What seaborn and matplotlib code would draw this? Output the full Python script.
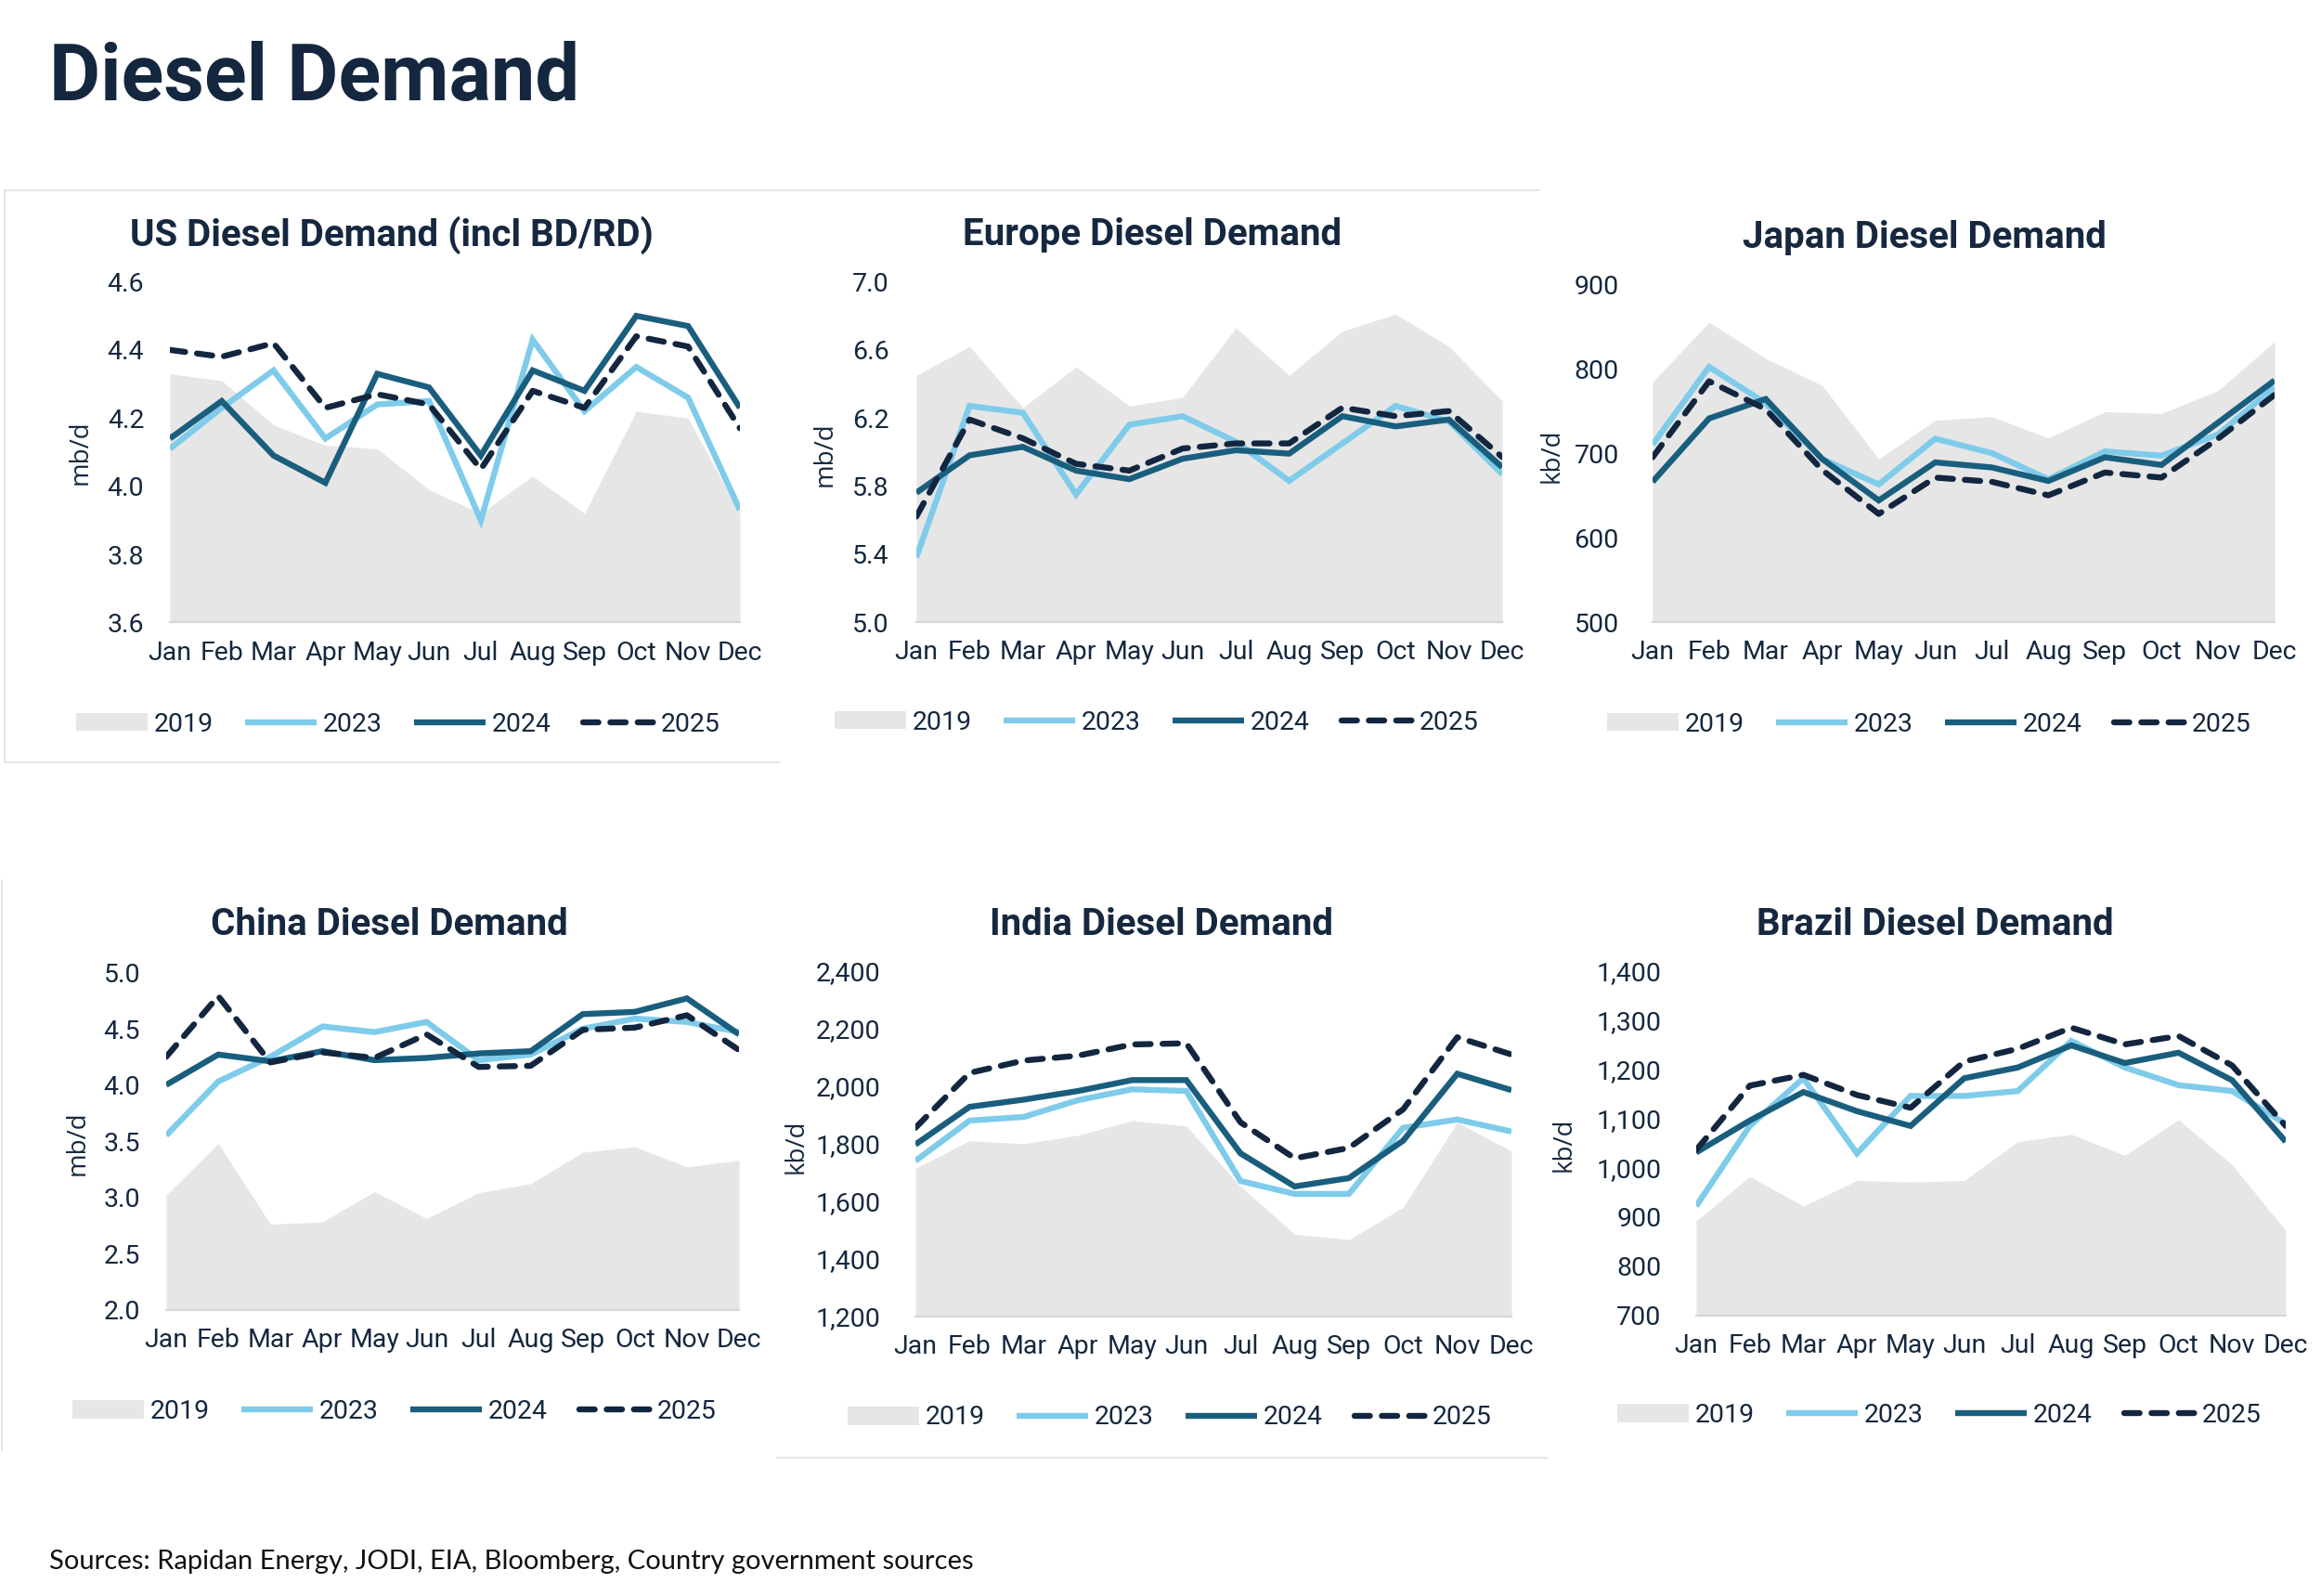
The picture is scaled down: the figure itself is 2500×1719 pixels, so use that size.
import matplotlib
matplotlib.use("Agg")
import matplotlib.pyplot as plt
import seaborn as sns
import numpy as np
import pandas as pd
from matplotlib.ticker import FixedLocator, FuncFormatter
from matplotlib.lines import Line2D

# ---------------- data ----------------
months = ["Jan", "Feb", "Mar", "Apr", "May", "Jun", "Jul", "Aug", "Sep", "Oct", "Nov", "Dec"]
years = ["2019", "2023", "2024", "2025"]

us_2019 = [4.33, 4.31, 4.18, 4.12, 4.11, 3.99, 3.92, 4.03, 3.92, 4.22, 4.20, 3.92]
us_2023 = [4.11, 4.23, 4.34, 4.14, 4.24, 4.25, 3.90, 4.43, 4.22, 4.35, 4.26, 3.93]
us_2024 = [4.14, 4.25, 4.09, 4.01, 4.33, 4.29, 4.09, 4.34, 4.28, 4.50, 4.47, 4.23]
us_2025 = [4.40, 4.38, 4.42, 4.23, 4.27, 4.24, 4.05, 4.28, 4.23, 4.44, 4.41, 4.17]

eu_2019 = [6.45, 6.62, 6.26, 6.50, 6.27, 6.32, 6.73, 6.45, 6.71, 6.81, 6.62, 6.30]
eu_2023 = [5.38, 6.27, 6.23, 5.75, 6.16, 6.21, 6.06, 5.83, 6.05, 6.27, 6.18, 5.87]
eu_2024 = [5.76, 5.98, 6.03, 5.89, 5.84, 5.96, 6.01, 5.99, 6.21, 6.15, 6.19, 5.91]
eu_2025 = [5.62, 6.19, 6.08, 5.93, 5.89, 6.02, 6.05, 6.05, 6.26, 6.21, 6.24, 5.97]

jp_2019 = [784, 855, 812, 780, 693, 739, 743, 718, 749, 747, 774, 832]
jp_2023 = [710, 802, 759, 693, 663, 717, 700, 669, 702, 697, 722, 778]
jp_2024 = [666, 741, 764, 693, 644, 689, 683, 667, 695, 686, 736, 786]
jp_2025 = [695, 785, 752, 680, 628, 671, 666, 650, 677, 671, 717, 769]

cn_2019 = [3.02, 3.48, 2.76, 2.78, 3.05, 2.81, 3.04, 3.12, 3.40, 3.45, 3.27, 3.33]
cn_2023 = [3.55, 4.03, 4.25, 4.52, 4.47, 4.56, 4.22, 4.27, 4.50, 4.59, 4.56, 4.47]
cn_2024 = [4.00, 4.27, 4.21, 4.30, 4.22, 4.24, 4.28, 4.30, 4.63, 4.65, 4.77, 4.45]
cn_2025 = [4.25, 4.79, 4.20, 4.29, 4.24, 4.45, 4.16, 4.17, 4.49, 4.51, 4.62, 4.31]

in_2019 = [1714, 1810, 1800, 1829, 1880, 1861, 1651, 1485, 1466, 1578, 1874, 1774]
in_2023 = [1740, 1880, 1893, 1951, 1989, 1983, 1670, 1625, 1625, 1855, 1884, 1842]
in_2024 = [1797, 1928, 1953, 1983, 2021, 2021, 1766, 1651, 1680, 1810, 2043, 1986]
in_2025 = [1855, 2046, 2089, 2106, 2145, 2149, 1874, 1749, 1785, 1919, 2170, 2110]

br_2019 = [892, 982, 922, 974, 971, 974, 1053, 1068, 1025, 1098, 1006, 872]
br_2023 = [922, 1085, 1182, 1029, 1146, 1146, 1156, 1258, 1204, 1168, 1156, 1089]
br_2024 = [1031, 1096, 1154, 1115, 1085, 1182, 1204, 1249, 1213, 1234, 1178, 1053]
br_2025 = [1036, 1167, 1189, 1148, 1122, 1216, 1242, 1285, 1251, 1268, 1208, 1085]

titles = ["US Diesel Demand (incl BD/RD)", "Europe Diesel Demand", "Japan Diesel Demand",
          "China Diesel Demand", "India Diesel Demand", "Brazil Diesel Demand"]
units = ["mb/d", "mb/d", "kb/d", "mb/d", "kb/d", "kb/d"]
yticks_us = [3.6, 3.8, 4.0, 4.2, 4.4, 4.6]
yticks_eu = [5.0, 5.4, 5.8, 6.2, 6.6, 7.0]
yticks_jp = [500, 600, 700, 800, 900]
yticks_cn = [2.0, 2.5, 3.0, 3.5, 4.0, 4.5, 5.0]
yticks_in = [1200, 1400, 1600, 1800, 2000, 2200, 2400]
yticks_br = [700, 800, 900, 1000, 1100, 1200, 1300, 1400]

series = [
    (us_2019, us_2023, us_2024, us_2025),
    (eu_2019, eu_2023, eu_2024, eu_2025),
    (jp_2019, jp_2023, jp_2024, jp_2025),
    (cn_2019, cn_2023, cn_2024, cn_2025),
    (in_2019, in_2023, in_2024, in_2025),
    (br_2019, br_2023, br_2024, br_2025),
]
ticks = [yticks_us, yticks_eu, yticks_jp, yticks_cn, yticks_in, yticks_br]
fmts = ["{:.1f}", "{:.1f}", "{:,.0f}", "{:.1f}", "{:,.0f}", "{:,.0f}"]

# ---------------- style ----------------
sns.set_theme(style="white")
plt.rcParams["font.family"] = ["Roboto", "DejaVu Sans"]

W, H = 2500, 1719
DPI = 100
C2019 = "#E6E6E6"
C2023 = "#7FCBEA"
C2024 = "#1A5E7E"
C2025 = "#13263F"
TXT = "#15283F"
LW = 4.6
FS = 20.5

# layout in pixels: axes (left, right, top, bottom), title center, legend center, ylabel center, ytick pad
layout = [
    dict(ax=(183, 797, 303.5, 670.5), title=(422, 253), leg=(429, 780), ylab=(87, 487), pad=21),
    dict(ax=(987, 1618, 303.5, 670), title=(1241, 253), leg=(1246, 778), ylab=(889, 489), pad=22),
    dict(ax=(1780, 2450, 306, 670), title=(2073, 256), leg=(2078, 780), ylab=(1672, 491), pad=27),
    dict(ax=(179, 796, 1047.5, 1410.5), title=(419, 996), leg=(425, 1520), ylab=(84, 1231), pad=21),
    dict(ax=(986, 1628, 1046, 1417.5), title=(1251, 996), leg=(1260, 1527), ylab=(858, 1235), pad=28),
    dict(ax=(1827, 2462, 1046, 1416.5), title=(2084, 996), leg=(2089, 1524), ylab=(1685, 1233), pad=28),
]

def fx(px):
    return px / W

def fy(py):
    return 1 - py / H

fig = plt.figure(figsize=(W / DPI, H / DPI), dpi=DPI)
fig.patch.set_facecolor("white")

x = np.arange(len(months))

for i in range(6):
    lay = layout[i]
    L, R, T, B = lay["ax"]
    ax = fig.add_axes([fx(L), fy(B), (R - L) / W, (B - T) / H])
    s2019, s2023, s2024, s2025 = series[i]
    yt = ticks[i]
    ymin, ymax = yt[0], yt[-1]

    ax.fill_between(x, ymin, s2019, color=C2019, lw=0, label="2019", zorder=1)
    df = pd.DataFrame({"m": np.tile(x, 3),
                       "v": list(s2023) + list(s2024) + list(s2025),
                       "year": ["2023"] * 12 + ["2024"] * 12 + ["2025"] * 12})
    sns.lineplot(data=df[df.year == "2023"], x="m", y="v", color=C2023, lw=LW,
                 label="2023", ax=ax, zorder=3, legend=False)
    sns.lineplot(data=df[df.year == "2024"], x="m", y="v", color=C2024, lw=LW,
                 label="2024", ax=ax, zorder=4, legend=False)
    sns.lineplot(data=df[df.year == "2025"], x="m", y="v", color=C2025, lw=LW,
                 label="2025", ax=ax, zorder=5, legend=False)
    lines = ax.get_lines()
    for ln in lines:
        ln.set_solid_capstyle("butt")
        ln.set_solid_joinstyle("miter")
    dash_line = lines[-1]
    dash_line.set_dashes((2.6, 2.0))
    dash_line.set_dash_capstyle("round")

    ax.set_xlim(0, 11)
    ax.set_ylim(ymin, ymax)
    ax.yaxis.set_major_locator(FixedLocator(yt))
    f = fmts[i]
    ax.yaxis.set_major_formatter(FuncFormatter(lambda v, p, f=f: f.format(v)))
    ax.set_xticks(x)
    ax.set_xticklabels(months)
    ax.set_xlabel("")
    ax.set_ylabel("")
    ax.tick_params(axis="both", length=0, labelsize=FS, labelcolor=TXT)
    ax.tick_params(axis="y", pad=lay["pad"] - 1)
    ax.tick_params(axis="x", pad=14)
    for side in ["top", "right", "left"]:
        ax.spines[side].set_visible(False)
    ax.spines["bottom"].set_color("#D6D6D6")
    ax.spines["bottom"].set_linewidth(1.6)
    ax.spines["bottom"].set_zorder(2)
    ax.set_facecolor("none")
    ax.grid(False)

    # title
    tx, ty = lay["title"]
    fig.text(fx(tx), fy(ty), titles[i], ha="center", va="center", fontsize=29,
             fontweight="bold", color=TXT)
    # unit label
    ux, uy = lay["ylab"]
    fig.text(fx(ux), fy(uy), units[i], ha="center", va="center", rotation=90,
             fontsize=20, color=TXT, family=["Open Sans", "DejaVu Sans"])

    # legend
    h_area = ax.collections[0]
    handles = [h_area] + lines[:3]
    lx, ly = lay["leg"]
    leg = ax.legend(handles, years, loc="center", bbox_to_anchor=(fx(lx), fy(ly)),
                    bbox_transform=fig.transFigure, ncol=4, frameon=False,
                    fontsize=FS, handlelength=2.7, handletextpad=0.25,
                    columnspacing=1.2, borderaxespad=0, borderpad=0)
    for t in leg.get_texts():
        t.set_color(TXT)

# main title
fig.text(fx(53), fy(108), "Diesel Demand", ha="left", va="baseline", fontsize=61,
         fontweight="bold", color="#14273F")

# sources
fig.text(fx(53), fy(1690), "Sources: Rapidan Energy, JODI, EIA, Bloomberg, Country government sources",
         ha="left", va="baseline", fontsize=21, color="#111111", family=["Lato", "DejaVu Sans"])

# faint panel frame lines (decoration of the original layout)
FR = "#E6E6E6"
for (x0, y0, x1, y1) in [(5, 205, 1658, 205), (5, 205, 5, 821), (5, 821, 840, 821),
                         (2, 948, 2, 1562), (837, 1570, 1666, 1570)]:
    fig.add_artist(Line2D([fx(x0), fx(x1)], [fy(y0), fy(y1)], color=FR, lw=1.5,
                          transform=fig.transFigure))

fig.savefig("out.png", dpi=DPI, facecolor="white")
